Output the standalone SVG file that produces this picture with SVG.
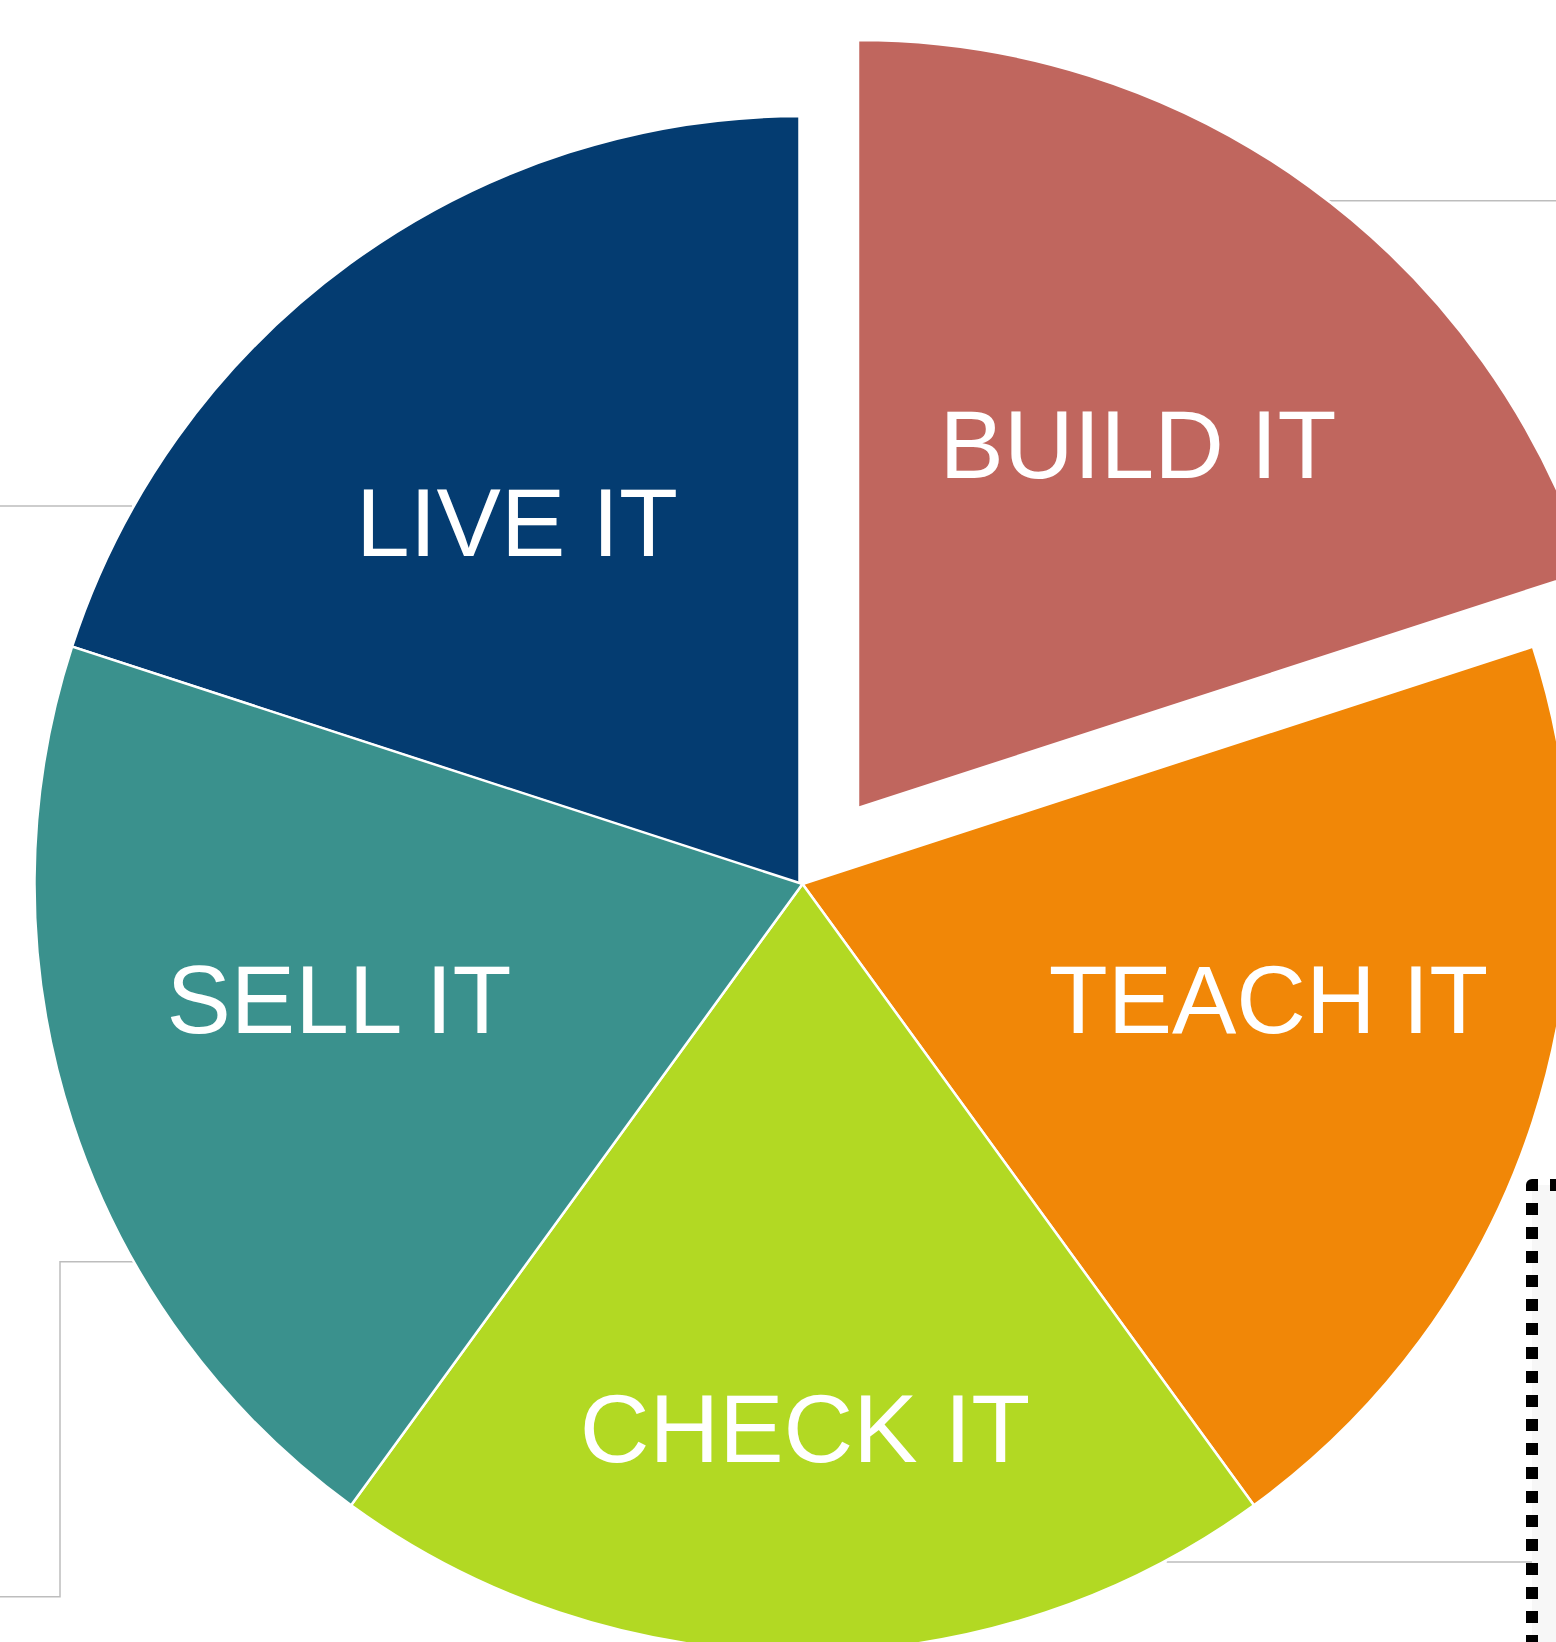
<svg xmlns="http://www.w3.org/2000/svg" width="1556" height="1642" viewBox="0 0 1556 1642">
  <style>
    .slice { stroke: #ffffff; stroke-width: 2.5; stroke-linejoin: miter; }
    .label { font-family: "Liberation Sans", Arial, sans-serif; font-size: 96.5px; fill: #ffffff; text-anchor: middle; }
    .rule { fill: none; stroke: #bdbdbd; stroke-width: 1.5; }
  </style>
  <rect width="1556" height="1642" fill="#ffffff"/>

  <!-- thin grey callout rules around the wheel -->
  <g id="connectors">
    <path class="rule" d="M1328,200.7 H1556"/>
    <path class="rule" d="M0,506 H132"/>
    <path class="rule" d="M0,1596.7 H60 V1261.7 H136"/>
    <path class="rule" d="M1166.7,1562 H1532"/>
  </g>

  <!-- dotted panel at the lower right -->
  <g id="panel">
    <rect x="1532" y="1185" width="100" height="500" fill="#f7f7f7"/>
    <path d="M1532,1660 V1185 H1580" fill="none" stroke="#000000" stroke-width="12" stroke-dasharray="12 12" stroke-dashoffset="11" stroke-linejoin="round"/>
  </g>

  <!-- five-part wheel, centre (802.5,884), radius 768 -->
  <g id="live-it">
    <path class="slice" fill="#043c71" d="M799.5,884 L72.09,646.67 A768,768 0 0 1 799.5,116 Z"/>
    <text class="label" x="517" y="556">LIVE IT</text>
  </g>
  <g id="build-it" transform="translate(58,-75)">
    <path class="slice" fill="#c0665e" d="M800,883 L800,115 A768,768 0 0 1 1530.41,645.67 Z"/>
    <text class="label" x="1080" y="553">BUILD IT</text>
  </g>
  <g id="teach-it">
    <path class="slice" fill="#f18707" d="M802.5,884 L1532.91,646.67 A768,768 0 0 1 1253.92,1505.33 Z"/>
    <text class="label" x="1268.5" y="1033">TEACH IT</text>
  </g>
  <g id="check-it">
    <path class="slice" fill="#b2d923" d="M802.5,884 L1253.92,1505.33 A768,768 0 0 1 351.08,1505.33 Z"/>
    <text class="label" x="805" y="1462">CHECK IT</text>
  </g>
  <g id="sell-it">
    <path class="slice" fill="#3a918d" d="M802.5,884 L351.08,1505.33 A768,768 0 0 1 72.09,646.67 Z"/>
    <text class="label" x="339" y="1033">SELL IT</text>
  </g>
</svg>
